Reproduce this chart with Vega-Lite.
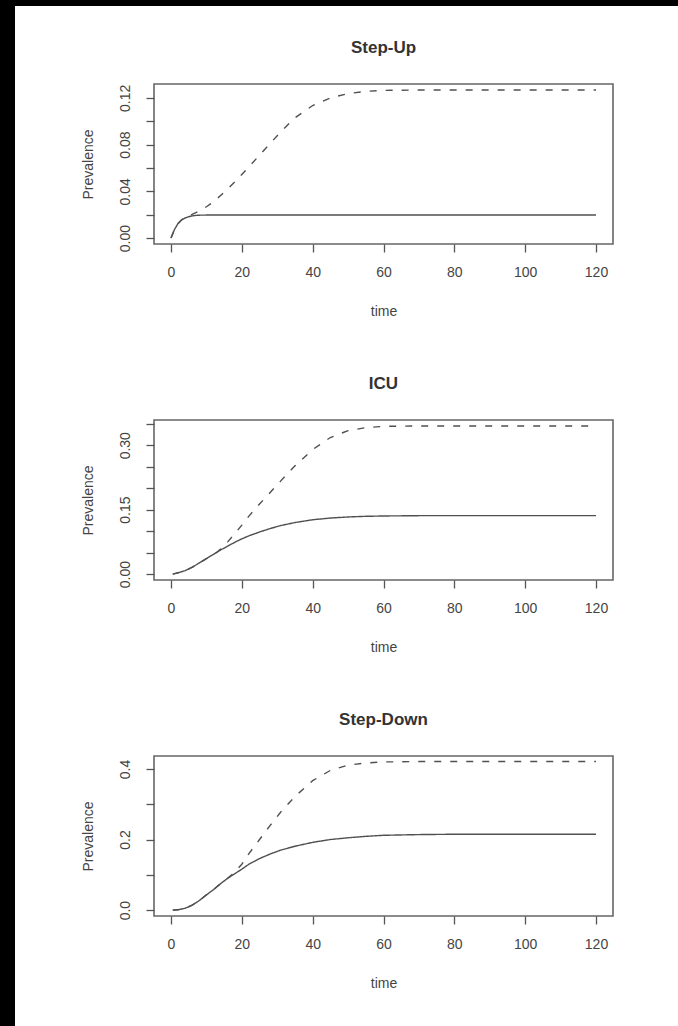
{
  "$schema": "https://vega.github.io/schema/vega-lite/v6.json",
  "background": "white",
  "padding": 0,
  "bounds": "flush",
  "spacing": 0,
  "config": {
    "view": {"stroke": "#666666", "strokeWidth": 1.6},
    "axis": {
      "labelFont": "Liberation Sans", "labelFontSize": 14, "labelColor": "#444444",
      "titleFont": "Liberation Sans", "titleFontSize": 14, "titleFontWeight": "normal", "titleColor": "#444444",
      "tickColor": "#555555", "tickSize": 8, "tickWidth": 1.3, "domain": false, "grid": false,
      "labelFlush": false, "labelOverlap": false, "labelBound": false
    },
    "axisX": {"labelPadding": 13, "titlePadding": 25, "labelAngle": 0},
    "axisY": {"labelAngle": -90, "labelAlign": "center", "labelBaseline": "alphabetic", "labelPadding": 17, "titlePadding": 23},
    "title": {"font": "Liberation Sans", "fontSize": 17, "fontWeight": "bold", "color": "#333333", "frame": "group", "anchor": "middle", "baseline": "alphabetic", "offset": 27}
  },
  "vconcat": [
    {"width": 678, "height": 6, "data": {"values": []}, "mark": {"type": "point", "opacity": 0}, "view": {"fill": "black", "stroke": null}},
    {
      "hconcat": [
        {"width": 15, "height": 1020, "data": {"values": []}, "mark": {"type": "point", "opacity": 0}, "view": {"fill": "black", "stroke": null}},
        {
          "vconcat": [
            {"width": 1, "height": 78, "data": {"values": []}, "mark": {"type": "point", "opacity": 0}, "view": {"stroke": null}},
            {
              "vconcat": [
                {
                  "title": {"text": "Step-Up"},
                  "width": 459, "height": 160,
                  "data": {"values": [
                    {"t": 0, "v": 0, "series": "A"}, {"t": 1, "v": 0.0075, "series": "A"}, {"t": 2, "v": 0.0125, "series": "A"}, {"t": 3, "v": 0.0155, "series": "A"}, {"t": 4, "v": 0.0172, "series": "A"}, {"t": 5, "v": 0.0183, "series": "A"}, {"t": 6, "v": 0.019, "series": "A"}, {"t": 7, "v": 0.0194, "series": "A"}, {"t": 8, "v": 0.0196, "series": "A"}, {"t": 10, "v": 0.0197, "series": "A"}, {"t": 20, "v": 0.0197, "series": "A"}, {"t": 40, "v": 0.0197, "series": "A"}, {"t": 60, "v": 0.0197, "series": "A"}, {"t": 80, "v": 0.0197, "series": "A"}, {"t": 100, "v": 0.0197, "series": "A"}, {"t": 120, "v": 0.0197, "series": "A"},
                    {"t": 0, "v": 0, "series": "B"}, {"t": 1, "v": 0.0075, "series": "B"}, {"t": 2, "v": 0.0125, "series": "B"}, {"t": 3, "v": 0.0157, "series": "B"}, {"t": 4, "v": 0.0176, "series": "B"}, {"t": 5, "v": 0.019, "series": "B"}, {"t": 6, "v": 0.0203, "series": "B"}, {"t": 7, "v": 0.0217, "series": "B"}, {"t": 8, "v": 0.0233, "series": "B"}, {"t": 10, "v": 0.0268, "series": "B"}, {"t": 12, "v": 0.031, "series": "B"}, {"t": 14, "v": 0.0365, "series": "B"}, {"t": 16, "v": 0.042, "series": "B"}, {"t": 18, "v": 0.048, "series": "B"}, {"t": 20, "v": 0.0545, "series": "B"}, {"t": 22, "v": 0.061, "series": "B"}, {"t": 25, "v": 0.071, "series": "B"}, {"t": 28, "v": 0.081, "series": "B"}, {"t": 31, "v": 0.091, "series": "B"}, {"t": 35, "v": 0.103, "series": "B"}, {"t": 40, "v": 0.1135, "series": "B"}, {"t": 45, "v": 0.12, "series": "B"}, {"t": 50, "v": 0.1237, "series": "B"}, {"t": 55, "v": 0.1256, "series": "B"}, {"t": 60, "v": 0.1264, "series": "B"}, {"t": 70, "v": 0.1268, "series": "B"}, {"t": 80, "v": 0.1268, "series": "B"}, {"t": 100, "v": 0.1268, "series": "B"}, {"t": 120, "v": 0.1268, "series": "B"}
                  ]},
                  "mark": {"type": "line", "color": "#505050", "strokeWidth": 1.4},
                  "encoding": {
                    "x": {"field": "t", "type": "quantitative", "scale": {"domain": [-4.8, 124.8], "nice": false, "zero": false}, "axis": {"values": [0, 20, 40, 60, 80, 100, 120], "title": "time"}},
                    "y": {"field": "v", "type": "quantitative", "scale": {"domain": [-0.00507, 0.1319], "nice": false, "zero": false}, "axis": {"values": [0, 0.02, 0.04, 0.06, 0.08, 0.1, 0.12], "labelExpr": "round(datum.value*100) % 4 == 0 ? format(datum.value, '.2f') : ''", "title": "Prevalence"}},
                    "strokeDash": {"field": "series", "type": "nominal", "scale": {"domain": ["A", "B"], "range": [[1, 0], [7, 9]]}, "legend": null}
                  }
                },
                {
                  "title": {"text": "ICU"},
                  "width": 459, "height": 160,
                  "data": {"values": [
                    {"t": 0.5, "v": 0, "series": "A"}, {"t": 2, "v": 0.003, "series": "A"}, {"t": 4, "v": 0.008, "series": "A"}, {"t": 6, "v": 0.016, "series": "A"}, {"t": 8, "v": 0.026, "series": "A"}, {"t": 10, "v": 0.036, "series": "A"}, {"t": 12, "v": 0.046, "series": "A"}, {"t": 14, "v": 0.056, "series": "A"}, {"t": 16, "v": 0.065, "series": "A"}, {"t": 18, "v": 0.074, "series": "A"}, {"t": 20, "v": 0.082, "series": "A"}, {"t": 22, "v": 0.089, "series": "A"}, {"t": 25, "v": 0.098, "series": "A"}, {"t": 28, "v": 0.106, "series": "A"}, {"t": 31, "v": 0.113, "series": "A"}, {"t": 35, "v": 0.12, "series": "A"}, {"t": 40, "v": 0.1265, "series": "A"}, {"t": 45, "v": 0.1305, "series": "A"}, {"t": 50, "v": 0.133, "series": "A"}, {"t": 55, "v": 0.1345, "series": "A"}, {"t": 60, "v": 0.1353, "series": "A"}, {"t": 70, "v": 0.136, "series": "A"}, {"t": 80, "v": 0.1362, "series": "A"}, {"t": 100, "v": 0.1362, "series": "A"}, {"t": 120, "v": 0.1362, "series": "A"},
                    {"t": 0.5, "v": 0, "series": "B"}, {"t": 2, "v": 0.003, "series": "B"}, {"t": 4, "v": 0.008, "series": "B"}, {"t": 6, "v": 0.016, "series": "B"}, {"t": 8, "v": 0.026, "series": "B"}, {"t": 10, "v": 0.036, "series": "B"}, {"t": 12, "v": 0.046, "series": "B"}, {"t": 13, "v": 0.0515, "series": "B"}, {"t": 14, "v": 0.058, "series": "B"}, {"t": 15, "v": 0.066, "series": "B"}, {"t": 16, "v": 0.075, "series": "B"}, {"t": 18, "v": 0.094, "series": "B"}, {"t": 20, "v": 0.114, "series": "B"}, {"t": 22, "v": 0.135, "series": "B"}, {"t": 25, "v": 0.163, "series": "B"}, {"t": 28, "v": 0.19, "series": "B"}, {"t": 31, "v": 0.217, "series": "B"}, {"t": 35, "v": 0.252, "series": "B"}, {"t": 40, "v": 0.29, "series": "B"}, {"t": 45, "v": 0.318, "series": "B"}, {"t": 50, "v": 0.334, "series": "B"}, {"t": 55, "v": 0.341, "series": "B"}, {"t": 60, "v": 0.344, "series": "B"}, {"t": 70, "v": 0.345, "series": "B"}, {"t": 80, "v": 0.345, "series": "B"}, {"t": 100, "v": 0.345, "series": "B"}, {"t": 120, "v": 0.345, "series": "B"}
                  ]},
                  "mark": {"type": "line", "color": "#505050", "strokeWidth": 1.4},
                  "encoding": {
                    "x": {"field": "t", "type": "quantitative", "scale": {"domain": [-4.8, 124.8], "nice": false, "zero": false}, "axis": {"values": [0, 20, 40, 60, 80, 100, 120], "title": "time"}},
                    "y": {"field": "v", "type": "quantitative", "scale": {"domain": [-0.0138, 0.3588], "nice": false, "zero": false}, "axis": {"values": [0, 0.05, 0.1, 0.15, 0.2, 0.25, 0.3, 0.35], "labelExpr": "round(datum.value*100) % 15 == 0 ? format(datum.value, '.2f') : ''", "title": "Prevalence"}},
                    "strokeDash": {"field": "series", "type": "nominal", "scale": {"domain": ["A", "B"], "range": [[1, 0], [7, 9]]}, "legend": null}
                  }
                },
                {
                  "title": {"text": "Step-Down"},
                  "width": 459, "height": 160,
                  "data": {"values": [
                    {"t": 0.5, "v": 0, "series": "A"}, {"t": 2, "v": 0.001, "series": "A"}, {"t": 4, "v": 0.005, "series": "A"}, {"t": 6, "v": 0.014, "series": "A"}, {"t": 8, "v": 0.027, "series": "A"}, {"t": 10, "v": 0.043, "series": "A"}, {"t": 12, "v": 0.058, "series": "A"}, {"t": 14, "v": 0.075, "series": "A"}, {"t": 16, "v": 0.09, "series": "A"}, {"t": 18, "v": 0.103, "series": "A"}, {"t": 20, "v": 0.116, "series": "A"}, {"t": 22, "v": 0.13, "series": "A"}, {"t": 25, "v": 0.146, "series": "A"}, {"t": 28, "v": 0.159, "series": "A"}, {"t": 31, "v": 0.17, "series": "A"}, {"t": 35, "v": 0.181, "series": "A"}, {"t": 40, "v": 0.192, "series": "A"}, {"t": 45, "v": 0.2, "series": "A"}, {"t": 50, "v": 0.205, "series": "A"}, {"t": 55, "v": 0.209, "series": "A"}, {"t": 60, "v": 0.212, "series": "A"}, {"t": 70, "v": 0.214, "series": "A"}, {"t": 80, "v": 0.215, "series": "A"}, {"t": 100, "v": 0.215, "series": "A"}, {"t": 120, "v": 0.215, "series": "A"},
                    {"t": 0.5, "v": 0, "series": "B"}, {"t": 2, "v": 0.001, "series": "B"}, {"t": 4, "v": 0.005, "series": "B"}, {"t": 6, "v": 0.014, "series": "B"}, {"t": 8, "v": 0.027, "series": "B"}, {"t": 10, "v": 0.043, "series": "B"}, {"t": 12, "v": 0.058, "series": "B"}, {"t": 14, "v": 0.075, "series": "B"}, {"t": 16, "v": 0.09, "series": "B"}, {"t": 18, "v": 0.108, "series": "B"}, {"t": 20, "v": 0.13, "series": "B"}, {"t": 22, "v": 0.16, "series": "B"}, {"t": 25, "v": 0.2, "series": "B"}, {"t": 28, "v": 0.24, "series": "B"}, {"t": 31, "v": 0.278, "series": "B"}, {"t": 35, "v": 0.322, "series": "B"}, {"t": 40, "v": 0.367, "series": "B"}, {"t": 45, "v": 0.396, "series": "B"}, {"t": 50, "v": 0.411, "series": "B"}, {"t": 55, "v": 0.417, "series": "B"}, {"t": 60, "v": 0.42, "series": "B"}, {"t": 70, "v": 0.421, "series": "B"}, {"t": 80, "v": 0.421, "series": "B"}, {"t": 100, "v": 0.421, "series": "B"}, {"t": 120, "v": 0.421, "series": "B"}
                  ]},
                  "mark": {"type": "line", "color": "#505050", "strokeWidth": 1.4},
                  "encoding": {
                    "x": {"field": "t", "type": "quantitative", "scale": {"domain": [-4.8, 124.8], "nice": false, "zero": false}, "axis": {"values": [0, 20, 40, 60, 80, 100, 120], "title": "time"}},
                    "y": {"field": "v", "type": "quantitative", "scale": {"domain": [-0.0168, 0.4368], "nice": false, "zero": false}, "axis": {"values": [0, 0.1, 0.2, 0.3, 0.4], "labelExpr": "round(datum.value*10) % 2 == 0 ? format(datum.value, '.1f') : ''", "title": "Prevalence"}},
                    "strokeDash": {"field": "series", "type": "nominal", "scale": {"domain": ["A", "B"], "range": [[1, 0], [7, 9]]}, "legend": null}
                  }
                }
              ],
              "spacing": 176,
              "bounds": "flush"
            }
          ],
          "spacing": 0,
          "bounds": "flush"
        }
      ],
      "spacing": 139,
      "bounds": "flush"
    }
  ]
}
